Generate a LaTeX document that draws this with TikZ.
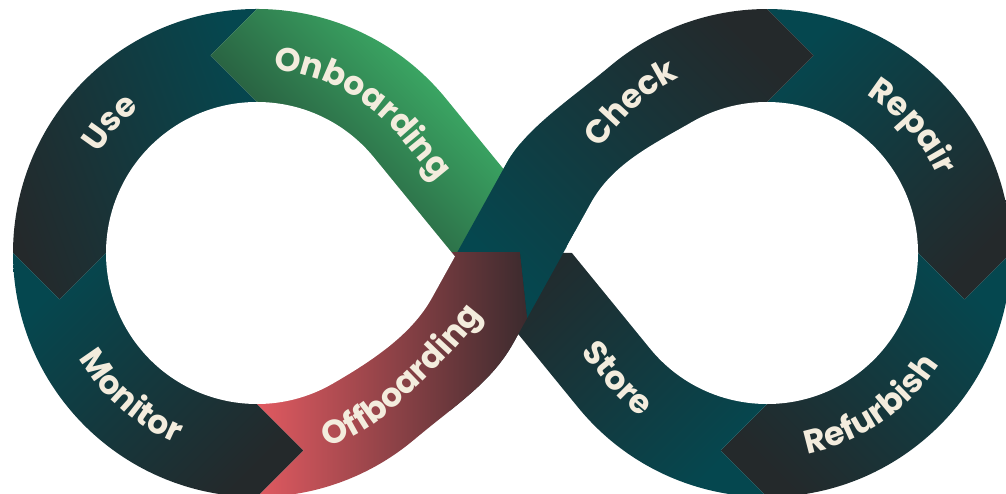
\documentclass[tikz,border=0pt]{standalone}
\usepackage{fontspec}
\newfontfamily\labfont{Poppins}
\usetikzlibrary{decorations.text}
\definecolor{cTeal}{HTML}{05474F}
\definecolor{cDark}{HTML}{24292B}
\definecolor{cGreen}{HTML}{41C070}
\definecolor{cDkGreen}{HTML}{1F3A2E}
\definecolor{cCoral}{HTML}{E25A61}
\definecolor{cBrown}{HTML}{3A2A2D}
\definecolor{cCream}{HTML}{F3ECDD}
\newcommand\FElab{\labfont\bfseries\fontsize{33}{33}\selectfont\color{cCream}}
\begin{document}
\begin{tikzpicture}[x=1pt,y=1pt,
  fetext/.style={decorate,decoration={text along path,text align=left}}]
\useasboundingbox (0,0) rectangle (1006,493);
\fill[white] (0,0) rectangle (1006,493);
\coordinate (CL) at (257,240);
\coordinate (CR) at (767,240);
\def\FEouter{(445.98,394.34) arc[start angle=39.233,end angle=310,radius=244pt] .. controls (455.97,88.44) and (491.48,110.64) .. (513.3,150) -- (518.25,158.9) -- (578.02,85.66) arc[start angle=219.233,end angle=490,radius=244pt] .. controls (571.86,394.77) and (526.09,364.98) .. (506.7,330) -- (503.4,324.06) -- cycle}
\def\FEholeL{(373.95,335.51) arc[start angle=39.233,end angle=300,radius=151pt] .. controls (375.8,134.23) and (412.47,160.02) .. (431.86,195) -- (454.9,236.5) -- cycle}
\def\FEholeR{(566.8,246.5) -- (650.05,144.49) arc[start angle=219.233,end angle=480,radius=151pt] .. controls (652.53,348.27) and (612.72,329.36) .. (590.9,290) -- cycle}
% Use
\begin{scope}
\clip \FEouter;
\clip (257,240) -- (257,391) -- (210.5,437.5) -- (257,484) -- (257,540) -- (-30,540) -- (-30,240) -- (13,240) -- (59.5,193.5) -- (106,240) -- cycle;
\shade[left color=cDark,right color=cTeal,shading angle=110] (0,190) rectangle (262,490);
\end{scope}
% Monitor
\begin{scope}
\clip \FEouter;
\clip (257,240) -- (106,240) -- (59.5,193.5) -- (13,240) -- (-30,240) -- (-30,-40) -- (257,-40) -- (257,-4) -- (303.5,42.5) -- (257,89) -- cycle;
\shade[top color=cTeal,bottom color=cDark,shading angle=45] (13,-5) rectangle (305,245);
\end{scope}
% Repair
\begin{scope}
\clip \FEouter;
\clip (767,240) -- (767,391) -- (813.5,437.5) -- (767,484) -- (767,540) -- (1040,540) -- (1040,240) -- (1011,240) -- (964.5,193.5) -- (918,240) -- cycle;
\shade[top color=cTeal,bottom color=cDark,shading angle=45] (765,190) rectangle (1011,487);
\end{scope}
% Refurbish
\begin{scope}
\clip \FEouter;
\clip (767,240) -- (918,240) -- (964.5,193.5) -- (1011,240) -- (1040,240) -- (1040,-40) -- (767,-40) -- (767,-4) -- (720.5,42.5) -- (767,89) -- cycle;
\shade[top color=cTeal,bottom color=cDark,shading angle=-45] (718,-5) rectangle (1011,245);
\end{scope}
% Store
\begin{scope}
\clip \FEouter;
\clip (767,240) -- (767,89) -- (720.5,42.5) -- (767,-4) -- (767,-40) -- (380,-40) -- (512,240) -- cycle;
\shade[top color=cDark,bottom color=cTeal,shading angle=45] (450,-5) rectangle (770,245);
\end{scope}
% Onboarding
\begin{scope}
\clip \FEouter;
\clip (257,240) -- (257,391) -- (210.5,437.5) -- (257,484) -- (257,540) -- (640,540) -- (512,240) -- cycle;
\shade[top color=cGreen,bottom color=cDkGreen,shading angle=-45] (205,235) rectangle (520,487);
\end{scope}
% Offboarding
\begin{scope}
\clip \FEouter;
\clip (257,240) -- (257,89) -- (303.5,42.5) -- (257,-4) -- (257,-40) -- (408,-40) -- (527.2,175) -- (520,241) -- (457.4,241) -- cycle;
\shade[left color=cCoral,right color=cBrown] (255,-5) rectangle (530,245);
\end{scope}
% Check
\begin{scope}
\clip \FEouter;
\clip (527.2,175) -- (520,241) -- (457.4,241) -- (623.1,540) -- (767,540) -- (767,484) -- (813.5,437.5) -- (767,391) -- (767,240) -- (575.4,262) -- cycle;
\shade[top color=cDark,bottom color=cTeal,shading angle=-45] (455,170) rectangle (815,487);
\end{scope}
% holes
\fill[white] \FEholeL;
\fill[white] \FEholeR;
% labels
\path[fetext,decoration={text={|\FElab|Use}}] ([shift={(148:187)}]CL) arc[start angle=148,end angle=100,radius=187pt];
\path[fetext,decoration={text={|\FElab|Onboarding}}] ([shift={(85:184)}]CL) arc[start angle=85,end angle=39.233,radius=184pt] -- ++(63.26,-77.45);
\path[fetext,decoration={text={|\FElab|Check}}] ([shift={(148:196)}]CR) arc[start angle=148,end angle=95,radius=196pt];
\path[fetext,decoration={text={|\FElab|Repair}}] ([shift={(58:187)}]CR) arc[start angle=58,end angle=5,radius=187pt];
\path[fetext,decoration={text={|\FElab|Monitor}}] ([shift={(210.5:207)}]CL) arc[start angle=210.5,end angle=265,radius=207pt];
\path[fetext,decoration={text={|\FElab|Offboarding}}] ([shift={(290:207)}]CL) arc[start angle=290,end angle=312,radius=207pt] .. controls (425.2,112.9) and (478.1,165.0) .. (497.5,200) -- (520,240);
\path[fetext,decoration={text={|\FElab|Store}}] (580.74,140.82) -- (606.68,109.07) arc[start angle=219.233,end angle=290,radius=207pt];
\path[fetext,decoration={text={|\FElab|Refurbish}}] ([shift={(281.5:205)}]CR) arc[start angle=281.5,end angle=355,radius=205pt];
\end{tikzpicture}
\end{document}
